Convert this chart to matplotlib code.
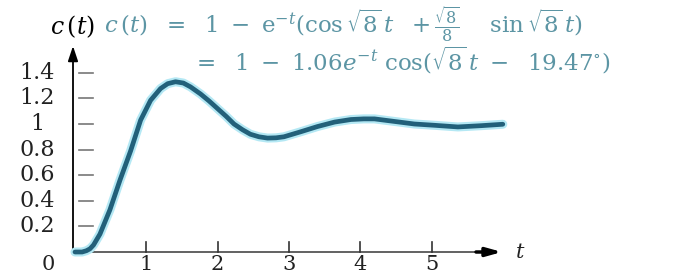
import matplotlib
matplotlib.use("Agg")
import matplotlib.pyplot as plt

# ---- data ----
t_vals = [0, 0.1, 0.16, 0.21, 0.26, 0.35, 0.49, 0.63, 0.78, 0.92, 1.06, 1.2,
          1.3, 1.41, 1.52, 1.62, 1.76, 1.88, 2.0, 2.12, 2.23, 2.35, 2.46,
          2.58, 2.70, 2.82, 2.93, 3.05, 3.17, 3.4, 3.64, 3.87, 4.05, 4.2,
          4.48, 4.76, 5.04, 5.37, 5.7, 6.0]
c_vals = [0, 0.0, 0.01, 0.025, 0.055, 0.14, 0.33, 0.56, 0.79, 1.03, 1.185,
          1.277, 1.315, 1.33, 1.32, 1.29, 1.235, 1.18, 1.12, 1.06, 1.0, 0.955,
          0.92, 0.90, 0.89, 0.892, 0.90, 0.92, 0.94, 0.98, 1.015, 1.035, 1.04,
          1.04, 1.02, 1.0, 0.99, 0.977, 0.987, 0.998]
y_ticks = [0.2, 0.4, 0.6, 0.8, 1.0, 1.2, 1.4]
y_tick_labels = ["0.2", "0.4", "0.6", "0.8", "1", "1.2", "1.4"]
x_ticks = [1, 2, 3, 4, 5]
x_tick_labels = ["1", "2", "3", "4", "5"]
formula_1 = (r"$c\,(t)\ \ =\ \ 1\ -\ \mathrm{e}^{-t}(\cos\sqrt{8}\,t\ \ +\frac{\sqrt{8}}{8}"
             r"\ \ \ \ \sin\sqrt{8}\,t)$")
formula_2 = r"$=\ \ 1\ -\ 1.06e^{-t}\ \cos(\sqrt{8}\,t\ -\ \ 19.47^{\circ})$"

plt.rcParams['mathtext.fontset'] = 'dejavuserif'
plt.rcParams['font.family'] = ['DejaVu Serif', 'Liberation Serif']

W, H = 682, 275
fig = plt.figure(figsize=(W / 100, H / 100), dpi=100)
ax = fig.add_axes([0, 0, 1, 1])
# pixel mapping: origin at (75, 252), 71.3 px per t, 128 px per unit c
px_t, px_c = 71.3, 128.0
ox, oy = 75, 252
ax.set_xlim(-ox / px_t, (W - ox) / px_t)
ax.set_ylim(-(H - oy) / px_c, oy / px_c)
ax.axis('off')

def X(p):
    return (p - ox) / px_t

def Y(p):
    return (oy - p) / px_c

# axes
ax.plot([0, X(485)], [0, 0], color='#555555', lw=1.3, zorder=2)
ax.annotate('', xy=(X(502), 0), xytext=(X(476), 0),
            arrowprops=dict(arrowstyle='-|>,head_length=0.9,head_width=0.25',
                            color='black', lw=2.5, shrinkA=0, shrinkB=0))
ax.annotate('', xy=(X(73), Y(46)), xytext=(X(73), 0),
            arrowprops=dict(arrowstyle='-|>,head_length=0.9,head_width=0.3',
                            color='black', lw=1.3, shrinkA=0, shrinkB=0))
ax.text(X(520), 0.0, r"$t$", fontsize=15, color='#222222', ha='center', va='center')
ax.text(X(73), Y(27), r"$c\,(t)$", fontsize=17, color='black', ha='center', va='center')

# y ticks: detached dashes
for v, lab in zip(y_ticks, y_tick_labels):
    ax.plot([X(79), X(93)], [v, v], color='#777777', lw=1.2)
    ax.text(X(37), v, lab, fontsize=16, ha='center', va='center', color='#222222')
ax.text(X(48), Y(264), "0", fontsize=15, ha='center', va='center', color='#222222')

# x ticks
for v, lab in zip(x_ticks, x_tick_labels):
    ax.plot([v, v], [0, Y(242)], color='#333333', lw=1.2)
    ax.text(v, Y(264), lab, fontsize=15, ha='center', va='center', color='#222222')

# curve with light halo
ax.plot(t_vals, c_vals, color='#b4e8f4', lw=6.5, solid_capstyle='round', zorder=3)
ax.plot(t_vals, c_vals, color='#22607a', lw=3.4, solid_capstyle='round', zorder=4)

# formula
fcol = '#5c95a4'
ax.text(X(104), Y(24), formula_1, fontsize=16.5, color=fcol, ha='left', va='center')
ax.text(X(192), Y(60), formula_2, fontsize=16.5, color=fcol, ha='left', va='center')

fig.savefig("out.png", dpi=100)
